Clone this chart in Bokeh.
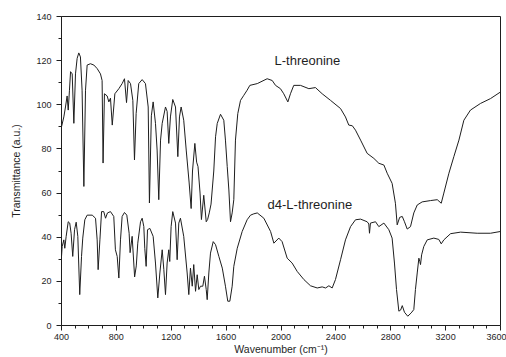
from bokeh.plotting import figure
from bokeh.models import FixedTicker, Range1d
from bokeh.core.properties import value
from bokeh.embed import file_html
from bokeh.resources import INLINE

# IR transmittance spectra (wavenumber in cm^-1, transmittance in a.u.)
lthr_wn = [400, 417, 429, 441, 449, 458, 466, 478, 490, 502, 514, 526, 538, 550, 563, 575, 587, 611, 636, 660,
           684, 696, 703, 713, 733, 745, 757, 770, 789, 818, 842, 859, 874, 886, 903, 920, 932, 944, 963, 988,
           1012, 1032, 1041, 1055, 1068, 1085, 1097, 1109, 1122, 1134, 1158, 1170, 1182, 1194, 1211, 1231, 1248,
           1260, 1272, 1291, 1309, 1330, 1345, 1355, 1372, 1385, 1395, 1410, 1420, 1437, 1455, 1465, 1477, 1490,
           1510, 1523, 1535, 1559, 1583, 1595, 1608, 1620, 1632, 1644, 1656, 1668, 1685, 1705, 1729, 1753, 1773,
           1827, 1899, 1936, 1960, 1996, 2020, 2050, 2069, 2093, 2142, 2203, 2251, 2300, 2361, 2434, 2470, 2494,
           2520, 2543, 2580, 2628, 2677, 2713, 2750, 2774, 2810, 2834, 2847, 2865, 2884, 2900, 2920, 2944, 2968,
           2993, 3029, 3090, 3139, 3168, 3187, 3224, 3260, 3297, 3333, 3381, 3454, 3527, 3600]
lthr_t = [90, 94.5, 99, 104, 97.6, 106.6, 115, 114, 91.6, 114, 121, 123.5, 121.7, 106.6, 63, 106.6, 118, 118.6, 118, 116.4,
          114, 111, 73.6, 105, 104, 101.3, 103, 90.8, 105, 107.3, 109.6, 111.8, 101, 111, 109.6, 102, 75, 96, 109.6, 111.4,
          109.6, 99, 55.5, 95, 101.3, 91.6, 79.5, 57, 84, 91.6, 99, 97, 82.5, 94.5, 102.4, 99, 76.5,
          94.5, 99, 93, 79.5, 65, 53, 70, 82.5, 74, 72, 60, 48, 59, 47, 48, 51, 55,
          70, 85.5, 91.5, 95.7, 93, 84, 72, 61.4, 47, 51, 57, 84, 96, 102, 104.3, 106.6, 108.8,
          109.6, 111.8, 111, 108.8, 107.3, 105, 101.3, 105, 108.8, 108.8, 107.3, 107.8, 105, 102, 98.3, 94.5, 90.8,
          90.5, 88.5, 84, 78, 75.7, 73.5, 72.7, 69, 64.4, 55.4, 45.6, 49, 49.4, 47, 43.7, 44.8, 51,
          54.6, 56, 56.6, 57, 55.4, 60, 69, 76.5, 84, 93, 97.6, 100.6, 102.8, 105.8]

d4_wn = [400, 405, 417, 424, 434, 449, 460, 470, 482, 495, 507, 519, 533, 546, 555, 570, 587, 624, 648, 660,
         667, 680, 692, 708, 721, 735, 757, 781, 793, 806, 818, 830, 842, 859, 876, 893, 900, 915, 933, 945,
         956, 976, 988, 1000, 1007, 1017, 1027, 1044, 1068, 1085, 1102, 1117, 1134, 1146, 1158, 1170, 1182,
         1189, 1199, 1211, 1231, 1243, 1255, 1267, 1291, 1316, 1328, 1340, 1353, 1364, 1377, 1389, 1401, 1413,
         1430, 1442, 1455, 1462, 1474, 1486, 1506, 1523, 1547, 1572, 1595, 1612, 1627, 1644, 1656, 1681, 1717,
         1753, 1778, 1802, 1827, 1875, 1924, 1948, 1984, 2008, 2045, 2081, 2118, 2167, 2215, 2264, 2300, 2325,
         2349, 2373, 2397, 2434, 2470, 2507, 2543, 2580, 2628, 2640, 2645, 2652, 2689, 2713, 2750, 2786, 2810,
         2827, 2842, 2859, 2872, 2884, 2900, 2924, 2949, 2968, 2980, 2993, 3005, 3012, 3017, 3025, 3041, 3066,
         3114, 3150, 3168, 3187, 3236, 3309, 3430, 3527, 3600]
d4_t = [31.3, 35.8, 38.8, 35, 40.4, 47, 46.4, 41.8, 31.3, 43.4, 46.8, 40.4, 14, 31.3, 39.6, 47.9, 50, 50, 48.6, 38.8,
        25.3, 38.8, 51.6, 51.6, 48.6, 51, 51.6, 49.4, 34.3, 31.3, 21.5, 38.8, 49.4, 51.2, 50, 41.8, 33, 40.4, 22, 27,
        37.3, 47, 48.6, 44.8, 35, 26.8, 43.4, 44, 40.4, 28.3, 12.5, 23.8, 34.3, 25.3, 14, 28.3, 34.3,
        29, 44.8, 51.6, 46.4, 29.8, 46.4, 48.6, 40.4, 23.8, 14, 26, 17.8, 27.6, 15.5, 23, 16.3, 17.8,
        17.8, 22.3, 16.3, 11.7, 23.8, 32.8, 38, 36.6, 31.3, 26, 17.8, 11, 11, 17.8, 26.8, 35, 42.6,
        47.9, 50, 50.6, 51, 48.6, 42.6, 37.3, 39.6, 38, 30.5, 28.3, 24.5, 20.8, 18, 17, 17.5, 17,
        18, 17, 20.8, 29.8, 38.8, 44.8, 47.9, 48.2, 47, 46, 41.8, 46.4, 47, 44.8, 46.4, 43.4, 39.6,
        28.3, 16.3, 6.5, 7, 9, 6, 4.2, 5.7, 7.2, 16.3, 23.8, 30.5, 29, 27.6, 32, 35.8, 38.8,
        39.6, 39, 37, 38.8, 41.6, 42.3, 41.8, 41.8, 42.6]

x_ticks = [400, 800, 1200, 1600, 2000, 2400, 2800, 3200, 3600]
y_ticks = [0, 20, 40, 60, 80, 100, 120, 140]

series_names = ["L-threonine", "d4-L-threonine"]
name_x = [1953, 1902]
name_y = [120, 54.7]

FONT = "Liberation Sans"
INK = "#1e1e1e"

p = figure(width=506, height=357, output_backend="svg", toolbar_location=None,
           x_range=Range1d(400, 3600), y_range=Range1d(0, 140),
           min_border_left=61, min_border_right=6, min_border_top=16, min_border_bottom=31)
p.background_fill_color = "white"
p.border_fill_color = "white"
p.outline_line_color = INK
p.outline_line_width = 1
p.xgrid.visible = False
p.ygrid.visible = False

p.line(lthr_wn, lthr_t, line_color=INK, line_width=1)
p.line(d4_wn, d4_t, line_color=INK, line_width=1)

p.text(x=name_x, y=name_y, text=series_names, text_font=value(FONT), text_font_size="13px",
       text_color=INK, text_align="left", text_baseline="middle")

minor_x = [v for v in range(500, 3600, 100) if v % 400]
minor_y = [v for v in range(10, 140, 20)]
p.xaxis.ticker = FixedTicker(ticks=x_ticks, minor_ticks=minor_x)
p.yaxis.ticker = FixedTicker(ticks=y_ticks, minor_ticks=minor_y)

p.xaxis.axis_label = "Wavenumber (cm\u207b\u00b9)"
p.yaxis.axis_label = "Transmittance (a.u.)"

for ax in (p.xaxis[0], p.yaxis[0]):
    ax.axis_line_color = INK
    ax.major_tick_line_color = INK
    ax.minor_tick_line_color = INK
    ax.major_tick_in = 0
    ax.major_tick_out = 5
    ax.minor_tick_in = 0
    ax.minor_tick_out = 3
    ax.major_label_text_font = FONT
    ax.major_label_text_font_size = "9px"
    ax.major_label_text_color = INK
    ax.axis_label_text_font = FONT
    ax.axis_label_text_font_size = "10.5px"
    ax.axis_label_text_font_style = "normal"
    ax.axis_label_text_color = INK

p.xaxis.major_label_standoff = 3
p.xaxis.axis_label_standoff = 0
p.yaxis.major_label_standoff = 5
p.yaxis.axis_label_standoff = 11

open("out.html", "w").write(file_html(p, INLINE))
